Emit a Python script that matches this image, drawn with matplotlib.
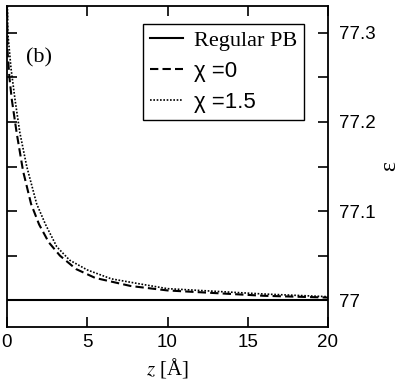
import matplotlib
matplotlib.use("Agg")
import matplotlib.pyplot as plt
from matplotlib.ticker import MultipleLocator

plt.rcParams["mathtext.fontset"] = "stix"

# values
z_chi0 = [0, 0.03, 0.15, 0.3, 0.6, 1.0, 1.5, 2.0, 2.6, 3.3, 4.3, 5.5, 7.7, 10, 13, 16, 20]
eps_chi0 = [77.34, 77.28, 77.25, 77.225, 77.188, 77.145, 77.108, 77.085, 77.065,
            77.05, 77.035, 77.025, 77.016, 77.011, 77.008, 77.005, 77.003]
z_chi15 = [0, 0.05, 0.25, 0.5, 0.8, 1.23, 1.85, 2.4, 3.1, 3.9, 5.0, 6.5, 8.7, 10, 13, 16, 20]
eps_chi15 = [77.36, 77.30, 77.26, 77.225, 77.188, 77.15, 77.108, 77.085, 77.06,
             77.045, 77.034, 77.024, 77.017, 77.013, 77.010, 77.007, 77.004]
z_pb = [0, 20]
eps_pb = [77.0, 77.0]

labels = ["Regular PB", "χ =0", "χ =1.5"]

fig = plt.figure(figsize=(4.05, 3.85), dpi=100)
ax = fig.add_axes([7/405, 58/385, 321/405, 321/385])

ax.plot(z_pb, eps_pb, color="black", lw=1.5, ls="-", label=labels[0])
ax.plot(z_chi0, eps_chi0, color="black", lw=1.5, ls=(0, (4, 2)), label=labels[1])
ax.plot(z_chi15, eps_chi15, color="black", lw=1.2, ls=(0, (1, 1)), label=labels[2])

ax.set_xlim(0, 20)
ax.set_ylim(76.97, 77.33)
ax.xaxis.set_major_locator(MultipleLocator(5))
ax.yaxis.set_minor_locator(MultipleLocator(0.05))
ax.set_yticks([77.0, 77.1, 77.2, 77.3])
ax.set_yticklabels(["77", "77.1", "77.2", "77.3"])

ax.tick_params(which="both", direction="in", length=7, width=1.2,
               top=True, bottom=True, left=True, right=True,
               labelleft=False, labelright=True, labelsize=13.5, pad=8)
ax.tick_params(axis="x", pad=5)
for lbl in ax.get_xticklabels() + ax.get_yticklabels():
    lbl.set_family("Liberation Sans")
for s in ax.spines.values():
    s.set_linewidth(1.3)

ax.set_xlabel("$z$ [Å]", fontsize=15, family="Liberation Serif", labelpad=4)
ax.yaxis.set_label_position("right")
ax.set_ylabel("ε", fontsize=17, family="Liberation Serif", labelpad=2)

ax.text(0.06, 0.84, "(b)", transform=ax.transAxes, fontsize=16,
        family="Liberation Serif", va="center")

leg = ax.legend(loc="upper right", bbox_to_anchor=(0.925, 0.944), fontsize=16,
                handlelength=1.5, handletextpad=0.5, borderpad=0.3,
                labelspacing=0.45, fancybox=False, edgecolor="black",
                framealpha=1, borderaxespad=0)
leg.get_frame().set_linewidth(1.0)
texts = leg.get_texts()
texts[0].set_family("Liberation Serif")
texts[1].set_family("Liberation Sans")
texts[2].set_family("Liberation Sans")

fig.savefig("out.png", dpi=100)
